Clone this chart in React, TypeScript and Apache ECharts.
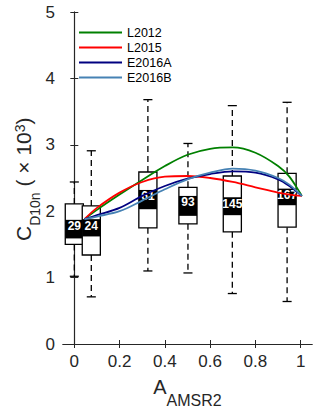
import { useEffect, useRef } from "react";
import * as echarts from "echarts";

// ---- data ----
const boxPositions = [0.0, 0.075, 0.325, 0.502, 0.698, 0.94];
const whiskerLow = [1.02, 0.71, 1.1, 1.07, 0.76, 0.64];
const quartile1 = [1.5, 1.34, 1.75, 1.81, 1.69, 1.76];
const quartile3 = [2.11, 2.08, 2.59, 2.36, 2.53, 2.57];
const whiskerHigh = [2.44, 2.91, 3.68, 3.02, 3.59, 3.64];
const labelBandLow = [1.59, 1.62, 2.03, 1.93, 1.94, 2.09];
const labelBandHigh = [1.87, 1.88, 2.32, 2.23, 2.21, 2.34];
const counts = [29, 24, 61, 93, 145, 167];

const curveA = [0.045, 0.1, 0.2, 0.3, 0.4, 0.5, 0.6, 0.7, 0.8, 0.9, 0.95, 1.005];
const L2012 = [1.88, 2.02, 2.25, 2.47, 2.68, 2.85, 2.94, 2.96, 2.88, 2.68, 2.52, 2.23];
const L2015 = [1.88, 2.05, 2.28, 2.44, 2.52, 2.53, 2.5, 2.44, 2.36, 2.28, 2.25, 2.23];
const E2016A = [1.88, 1.94, 2.05, 2.23, 2.38, 2.49, 2.56, 2.6, 2.58, 2.48, 2.38, 2.23];
const E2016B = [1.88, 1.92, 2.0, 2.16, 2.33, 2.48, 2.58, 2.64, 2.61, 2.5, 2.4, 2.23];

const seriesNames = ["L2012", "L2015", "E2016A", "E2016B"];
const seriesColors = ["#008000", "#ff0000", "#000080", "#4682b4"];
const seriesValues = [L2012, L2015, E2016A, E2016B];

const xTicks = [0, 0.2, 0.4, 0.6, 0.8, 1];

const FONT = '"Liberation Sans", Arial, Helvetica, sans-serif';
const AXIS_COLOR = "#262626";

function measure(text: string, size: number): number {
  const ctx = document.createElement("canvas").getContext("2d");
  if (!ctx) return text.length * size * 0.55;
  ctx.font = `${size}px ${FONT}`;
  return ctx.measureText(text).width;
}

type Piece = { text: string; size: number; shift: number };

// Pieces laid along a baseline that runs bottom-to-top, starting at (ox, oy).
function verticalTitle(pieces: Piece[], ox: number, oy: number) {
  let along = 0;
  const out: any[] = [];
  for (const p of pieces) {
    out.push({
      type: "text",
      x: ox + p.shift,
      y: oy - along,
      rotation: Math.PI / 2,
      silent: true,
      style: {
        text: p.text,
        font: `${p.size}px ${FONT}`,
        fill: AXIS_COLOR,
        align: "left",
        verticalAlign: "bottom",
      },
    });
    along += measure(p.text, p.size);
  }
  return out;
}

export default function App() {
  const ref = useRef<HTMLDivElement>(null);

  useEffect(() => {
    if (!ref.current) return;
    const chart = echarts.init(ref.current, null, { renderer: "svg" });

    const boxData = boxPositions.map((p, i) => [
      p,
      whiskerLow[i],
      quartile1[i],
      quartile3[i],
      whiskerHigh[i],
      labelBandLow[i],
      labelBandHigh[i],
      counts[i],
    ]);

    const BOX_W = 0.08;

    const renderBox = (params: any, api: any) => {
      const x = api.value(0);
      const lo = api.coord([x, api.value(1)]);
      const q1 = api.coord([x, api.value(2)]);
      const q3 = api.coord([x, api.value(3)]);
      const hi = api.coord([x, api.value(4)]);
      const bl = api.coord([x, api.value(5)]);
      const bh = api.coord([x, api.value(6)]);
      const n = api.value(7);
      const bw = api.size([BOX_W, 0])[0];
      const cx = lo[0];
      const cw = bw * 0.5;
      const dash = { stroke: "#000", lineWidth: 1.3, lineDash: [6, 4] };
      const solid = { stroke: "#000", lineWidth: 1.3 };
      return {
        type: "group",
        children: [
          { type: "line", shape: { x1: cx, y1: q3[1], x2: cx, y2: hi[1] }, style: dash },
          { type: "line", shape: { x1: cx, y1: q1[1], x2: cx, y2: lo[1] }, style: dash },
          { type: "line", shape: { x1: cx - cw / 2, y1: hi[1], x2: cx + cw / 2, y2: hi[1] }, style: solid },
          { type: "line", shape: { x1: cx - cw / 2, y1: lo[1], x2: cx + cw / 2, y2: lo[1] }, style: solid },
          {
            type: "rect",
            shape: { x: cx - bw / 2, y: q3[1], width: bw, height: q1[1] - q3[1] },
            style: { fill: "#fff", stroke: "#000", lineWidth: 1.3 },
          },
          {
            type: "rect",
            shape: { x: cx - bw / 2, y: bh[1], width: bw, height: bl[1] - bh[1] },
            style: { fill: "#000" },
          },
          {
            type: "text",
            x: cx,
            y: bh[1] + 6.5,
            style: {
              text: String(n),
              font: `bold 12px ${FONT}`,
              fill: "#fff",
              align: "center",
              verticalAlign: "middle",
            },
          },
        ],
      };
    };

    const axisCommon = {
      type: "value" as const,
      splitLine: { show: false },
      axisLine: { show: true, lineStyle: { color: AXIS_COLOR, width: 1.1 } },
    };

    const yTitle = verticalTitle(
      [
        { text: "C", size: 21, shift: 0 },
        { text: "D10n", size: 14, shift: 8 },
        { text: " ( \u00d7 10", size: 21, shift: 0 },
        { text: "3", size: 14, shift: -7 },
        { text: ")", size: 21, shift: 0 },
      ],
      34,
      241
    );

    chart.setOption({
      animation: false,
      grid: { left: 63, right: 8, top: 12, bottom: 66, outerBoundsMode: "none" },
      legend: {
        data: seriesNames,
        orient: "vertical",
        left: 79,
        top: 26,
        padding: 0,
        icon: "rect",
        itemWidth: 43,
        itemHeight: 2,
        itemGap: 2,
        textStyle: { fontSize: 12.5, fontFamily: FONT, color: "#000", lineHeight: 13 },
      },
      xAxis: [
        {
          ...axisCommon,
          min: -0.05,
          max: 1.05,
          position: "bottom",
          name: "{m|A}{s|AMSR2}",
          nameLocation: "middle",
          nameGap: 32,
          nameMoveOverlap: false,
          nameTextStyle: {
            color: AXIS_COLOR,
            fontFamily: FONT,
            rich: {
              m: { fontSize: 20, lineHeight: 22, fontFamily: FONT, color: AXIS_COLOR, verticalAlign: "middle" },
              s: {
                fontSize: 16,
                lineHeight: 22,
                fontFamily: FONT,
                color: AXIS_COLOR,
                verticalAlign: "middle",
                padding: [26, 0, 0, 0],
              },
            },
          },
          axisTick: { show: true, inside: true, length: 4, customValues: xTicks, lineStyle: { color: AXIS_COLOR } },
          axisLabel: {
            show: true,
            customValues: xTicks,
            fontSize: 17,
            fontFamily: FONT,
            color: AXIS_COLOR,
            margin: 9,
            formatter: (v: number) => String(v),
          },
        },
        {
          ...axisCommon,
          min: -0.05,
          max: 1.05,
          position: "top",
          axisTick: { show: true, inside: true, length: 4, customValues: xTicks, lineStyle: { color: AXIS_COLOR } },
          axisLabel: { show: false },
        },
      ],
      yAxis: [
        {
          ...axisCommon,
          min: 0,
          max: 5,
          interval: 1,
          position: "left",
          axisTick: { show: true, inside: true, length: 4, lineStyle: { color: AXIS_COLOR } },
          axisLabel: { show: true, fontSize: 17, fontFamily: FONT, color: AXIS_COLOR, margin: 8 },
        },
        {
          ...axisCommon,
          min: 0,
          max: 5,
          interval: 1,
          position: "right",
          axisTick: { show: true, inside: true, length: 4, lineStyle: { color: AXIS_COLOR } },
          axisLabel: { show: false },
        },
      ],
      graphic: yTitle,
      series: [
        {
          type: "custom",
          name: "boxes",
          renderItem: renderBox,
          data: boxData,
          encode: { x: 0, y: [1, 4] },
          z: 2,
          silent: true,
        },
        ...seriesNames.map((name, k) => ({
          type: "line",
          name,
          data: curveA.map((a, i) => [a, seriesValues[k][i]]),
          smooth: 0.35,
          showSymbol: false,
          symbol: "none",
          lineStyle: { color: seriesColors[k], width: 1.8 },
          itemStyle: { color: seriesColors[k] },
          z: 3,
        })),
      ],
    });

    return () => chart.dispose();
  }, []);

  return (
    <div
      ref={ref}
      style={{ position: "fixed", left: 0, top: 0, width: 320, height: 410, background: "#fff" }}
    />
  );
}
